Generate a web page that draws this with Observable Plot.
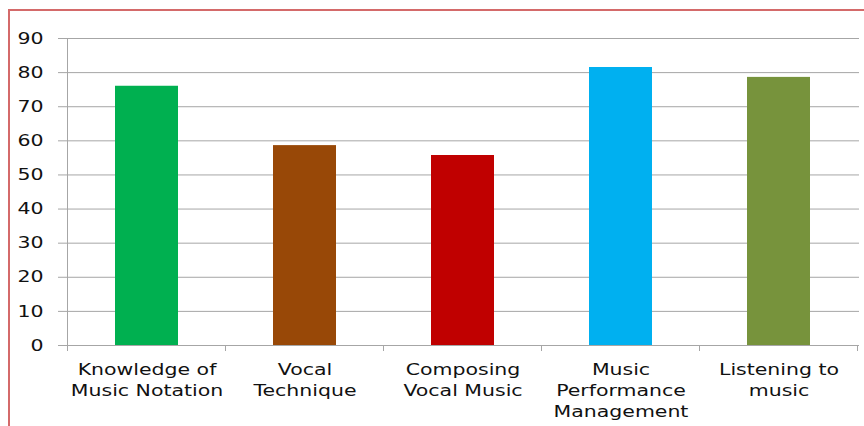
<!DOCTYPE html>
<html>
<head>
<meta charset="utf-8">
<script src="https://cdn.jsdelivr.net/npm/d3@7"></script>
<script src="https://cdn.jsdelivr.net/npm/@observablehq/plot@0.6"></script>
<style>
  html, body { margin: 0; padding: 0; background: #fff; }
  #wrap { position: relative; width: 864px; height: 426px; overflow: hidden; }
  #frame { position: absolute; left: 8px; top: 9px; width: 900px; height: 500px;
           border-left: 2px solid #d46a6a; border-top: 2px solid #d46a6a; box-sizing: border-box; }
  #chart { position: absolute; left: 0; top: 0; }
</style>
</head>
<body>
<div id="wrap"><div id="frame"></div><div id="chart"></div></div>
<script>
const categories = ["Knowledge of\nMusic Notation", "Vocal\nTechnique", "Composing\nVocal Music", "Music\nPerformance\nManagement", "Listening to\nmusic"];
const values = [76, 58.6, 55.7, 81.5, 78.6];
const colors = ["#00b050", "#984807", "#c00000", "#00b0f0", "#77933c"];
const yTicks = [0, 10, 20, 30, 40, 50, 60, 70, 80, 90];

const data = categories.map((c, i) => ({cat: c, value: values[i], color: colors[i]}));
const font = "'DejaVu Sans', sans-serif";

const plot = Plot.plot({
  width: 864,
  height: 426,
  marginLeft: 66,
  marginRight: 5,
  marginTop: 38,
  marginBottom: 81,
  style: {fontFamily: font, fontSize: "16px", color: "#111", background: "transparent"},
  x: {domain: categories, paddingInner: 0.6, paddingOuter: 0.3, align: 0.5, label: null},
  y: {domain: [0, 90], ticks: yTicks, label: null},
  marks: [
    Plot.gridY(yTicks, {stroke: "#a6a6a6", strokeOpacity: 1, strokeWidth: 1}),
    Plot.barY(data, {x: "cat", y: "value", fill: "color"}),
    Plot.axisY(yTicks, {tickSize: 8, tickPadding: 15, stroke: "#a6a6a6", fontSize: 16, fill: "#111"}),
    Plot.axisX({tickSize: 0, tickPadding: 15, fontSize: 16, lineHeight: 1.31, fill: "#111"}),
    Plot.ruleY([0], {stroke: "#a6a6a6"})
  ]
});

// vertical y-axis line and category boundary ticks, positioned via the plot's x scale
const xs = plot.scale("x");
const ys = plot.scale("y");
const svg = d3.select(plot);
const step = xs.step, bw = xs.bandwidth;
const y0 = ys.apply(0), y90 = ys.apply(90);
const first = xs.apply(categories[0]) - (step - bw) / 2;
svg.append("line").attr("x1", first).attr("x2", first).attr("y1", y90).attr("y2", y0)
  .attr("stroke", "#a6a6a6");
const bounds = d3.range(categories.length + 1).map(i => first + i * step);
svg.selectAll("line.bt").data(bounds).join("line").attr("class", "bt")
  .attr("x1", d => d).attr("x2", d => d).attr("y1", y0).attr("y2", y0 + 6)
  .attr("stroke", "#a6a6a6");

// the reference's lettering is horizontally wide: stretch the tick labels
svg.selectAll("g[aria-label='x-axis tick label'] text, g[aria-label='y-axis tick label'] text")
  .each(function() {
    const t = this.getAttribute("transform") || "";
    this.setAttribute("transform", t + " scale(1.28,1)");
  });

document.getElementById("chart").appendChild(plot);
</script>
</body>
</html>
